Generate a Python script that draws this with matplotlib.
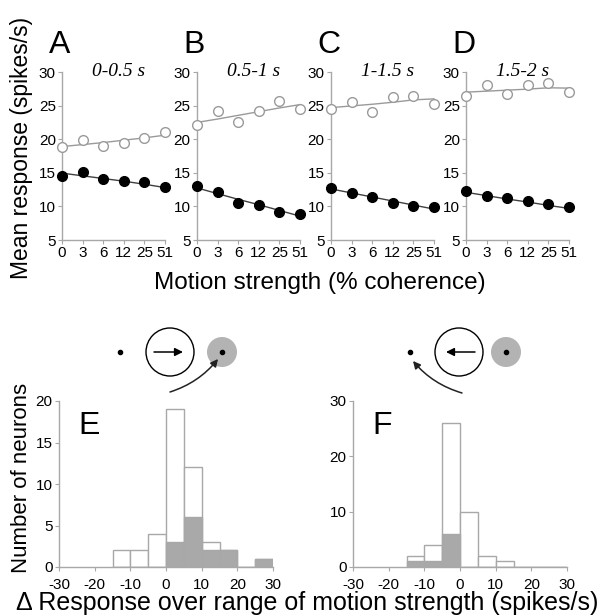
import matplotlib.pyplot as plt
from matplotlib.patches import Circle, FancyArrowPatch
import numpy as np

plt.rcParams['font.family'] = ['Liberation Sans', 'DejaVu Sans']
plt.rcParams['axes.unicode_minus'] = False

# ---- data: mean response vs motion strength ----
coh_labels = ['0', '3', '6', '12', '25', '51']
panel_letters = ['A', 'B', 'C', 'D']
epochs = ['0-0.5 s', '0.5-1 s', '1-1.5 s', '1.5-2 s']

open_pts = [[18.8, 19.95, 19.0, 19.5, 20.25, 21.0],
            [22.1, 24.15, 22.6, 24.25, 25.65, 24.55],
            [24.5, 25.6, 24.1, 26.3, 26.4, 25.2],
            [26.4, 28.0, 26.7, 28.0, 28.3, 27.0]]
open_fit = [[18.9, 19.2, 19.5, 19.85, 20.2, 20.6],
            [22.5, 23.0, 23.55, 24.1, 24.65, 25.15],
            [24.7, 24.95, 25.2, 25.5, 25.85, 26.0],
            [27.0, 27.15, 27.3, 27.45, 27.65, 27.6]]
filled_pts = [[14.55, 15.15, 14.05, 13.85, 13.6, 12.85],
              [13.1, 12.1, 10.5, 10.25, 9.15, 8.9],
              [12.8, 12.0, 11.35, 10.45, 10.0, 9.85],
              [12.3, 11.55, 11.2, 10.75, 10.4, 9.85]]
filled_fit = [[14.95, 14.55, 14.15, 13.75, 13.3, 12.8],
              [12.75, 11.9, 11.05, 10.25, 9.4, 8.55],
              [12.6, 12.0, 11.4, 10.8, 10.2, 9.6],
              [12.1, 11.6, 11.1, 10.65, 10.15, 9.7]]

# ---- data: histograms (bins of 5 spikes/s) ----
bin_left = [-15, -10, -5, 0, 5, 10, 15, 20, 25]
e_total = [2, 2, 4, 19, 12, 3, 2, 0, 1]
e_sig = [0, 0, 0, 3, 6, 2, 2, 0, 1]
f_total = [2, 4, 26, 10, 2, 1, 0, 0, 0]
f_sig = [1, 1, 6, 0, 0, 0, 0, 0, 0]

W, H = 608, 616
fig = plt.figure(figsize=(W / 100, H / 100), dpi=100)

spine_c = '#a8a8a8'
gray_open = '#9a9a9a'


def style(ax):
    for s in ['top', 'right']:
        ax.spines[s].set_visible(False)
    for s in ['left', 'bottom']:
        ax.spines[s].set_color(spine_c)
        ax.spines[s].set_linewidth(1.0)
    ax.tick_params(colors=spine_c, labelcolor='black', labelsize=11,
                   length=3, width=0.8, pad=1.5)


lefts = [62, 197, 331, 466]
x = np.arange(len(coh_labels))
for i in range(4):
    ax = fig.add_axes([lefts[i] / W, 1 - 240 / H, 103 / W, 168 / H])
    style(ax)
    ax.plot(x, open_fit[i], color=gray_open, lw=1.0, clip_on=False)
    ax.plot(x, filled_fit[i], color='#404040', lw=1.0, clip_on=False)
    ax.plot(x, open_pts[i], 'o', ms=7, mfc='white', mec=gray_open, mew=1.0,
            clip_on=False, zorder=3)
    ax.plot(x, filled_pts[i], 'o', ms=7, mfc='black', mec='black',
            clip_on=False, zorder=3)
    ax.set_xlim(0, 5)
    ax.set_ylim(5, 30)
    ax.set_yticks([5, 10, 15, 20, 25, 30])
    ax.set_xticks(x)
    ax.set_xticklabels(coh_labels)
    ax.text(0.55, 1.0, epochs[i], transform=ax.transAxes, ha='center',
            va='center', fontsize=14, family='Liberation Serif',
            style='italic')
    ax.text(-0.13, 1.16, panel_letters[i], transform=ax.transAxes,
            ha='left', va='center', fontsize=23)

fig.text(22 / W, 1 - 148 / H, 'Mean response (spikes/s)', rotation=90,
         ha='center', va='center', fontsize=16.5)
fig.text(320 / W, 1 - 283 / H, 'Motion strength (% coherence)',
         ha='center', va='center', fontsize=17.5)

# histograms
hist_specs = [(59, 'E', e_total, e_sig, [0, 5, 10, 15, 20], 20),
              (353, 'F', f_total, f_sig, [0, 10, 20, 30], 30)]
for left, letter, tot, sig, yt, ytop in hist_specs:
    ax = fig.add_axes([left / W, 1 - 567 / H, 214 / W, 166 / H])
    style(ax)
    ax.bar(bin_left, tot, width=5, align='edge', color='white',
           edgecolor=spine_c, lw=1.0)
    ax.bar(bin_left, sig, width=5, align='edge', color='#a9a9a9',
           edgecolor=spine_c, lw=1.0)
    ax.set_xlim(-30, 30)
    ax.set_ylim(0, ytop)
    ax.set_xticks([-30, -20, -10, 0, 10, 20, 30])
    ax.set_yticks(yt)
    ax.tick_params(axis='x', pad=5)
    ax.text(0.09, 0.85, letter, transform=ax.transAxes, ha='left',
            va='center', fontsize=23)

fig.text(22 / W, 1 - 478 / H, 'Number of neurons', rotation=90,
         ha='center', va='center', fontsize=16)
fig.text(307 / W, 1 - 603 / H,
         '\u0394 Response over range of motion strength (spikes/s)',
         ha='center', va='center', fontsize=18)

# schematic icons above the histograms (pixel coordinates)
ov = fig.add_axes([0, 0, 1, 1], zorder=-1)
ov.set_xlim(0, W)
ov.set_ylim(H, 0)
ov.axis('off')


def icon(dot_x, ring_x, gray_x, y, arrow_dir, arc_from, arc_to, rad):
    ov.add_patch(Circle((gray_x, y), 15, color='#b3b3b3', lw=0))
    ov.add_patch(Circle((ring_x, y), 24, fill=False, ec='black', lw=1.0))
    ov.plot([dot_x, gray_x], [y, y], 'o', ms=3, color='black')
    x0, x1 = ring_x - 16 * arrow_dir, ring_x + 13 * arrow_dir
    ov.annotate('', xy=(x1, y), xytext=(x0, y),
                arrowprops=dict(arrowstyle='-|>', lw=1.1, color='black',
                                mutation_scale=12, shrinkA=0, shrinkB=0))
    ov.add_patch(FancyArrowPatch(arc_from, arc_to,
                                 connectionstyle='arc3,rad=%s' % rad,
                                 arrowstyle='-|>', mutation_scale=11,
                                 lw=1.1, color='#222222', shrinkA=0,
                                 shrinkB=0))


icon(120, 170, 222, 352, 1, (170, 392), (218, 359), 0.15)
icon(410, 459, 506, 352, -1, (462, 393), (413, 361), -0.15)

fig.savefig('out.png', dpi=100)
